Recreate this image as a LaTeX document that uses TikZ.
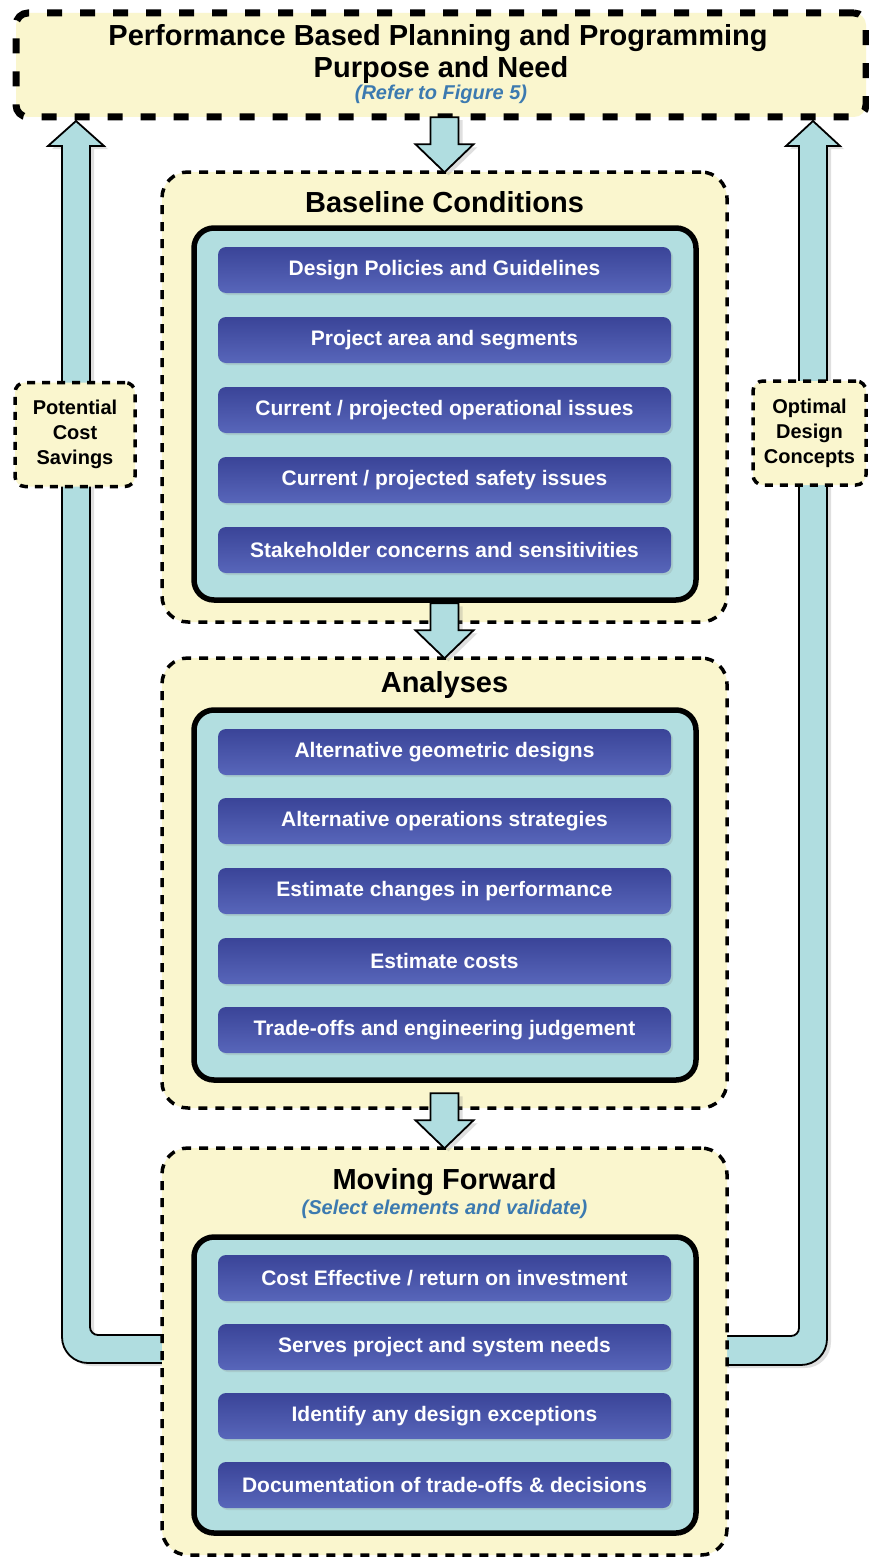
\documentclass[tikz,border=0pt]{standalone}
\usepackage{fontspec}
\setmainfont{Liberation Sans}
\usetikzlibrary{calc,shadows}
\definecolor{cream}{RGB}{250,246,206}
\definecolor{pale}{RGB}{178,222,224}
\definecolor{arrowfill}{RGB}{176,221,224}
\definecolor{btnmid}{RGB}{36,44,126}
\definecolor{btntop}{RGB}{58,68,152}
\definecolor{btnbot}{RGB}{88,102,186}
\definecolor{subblue}{RGB}{60,122,176}

\tikzset{
  topbox/.style={draw, fill=cream, line width=7pt, dash pattern=on 15pt off 18pt,
    rounded corners=12pt, minimum width=850pt, minimum height=104pt},
  secbox/.style={draw, fill=cream, line width=3.5pt, dash pattern=on 9pt off 8pt,
    rounded corners=26pt, minimum width=565pt},
  sidebox/.style={draw, fill=cream, line width=3.5pt, dash pattern=on 8pt off 7pt,
    rounded corners=10pt, align=center, minimum height=104pt, inner sep=1pt,
    font=\bfseries\fontsize{20}{25}\selectfont},
  innerbox/.style={draw, fill=pale, line width=5.5pt, rounded corners=20pt,
    minimum width=502pt},
  btn/.style={rounded corners=8pt, top color=btntop, middle color=btnmid,
    bottom color=btnbot, text=white, minimum width=453pt, minimum height=46pt,
    drop shadow={opacity=0.2, shadow xshift=2pt, shadow yshift=-2pt},
    font=\bfseries\fontsize{21}{24}\selectfont},
  fatarrow/.style={draw, fill=arrowfill, line width=1.8pt, line join=miter,
    drop shadow={opacity=0.25, shadow xshift=4pt, shadow yshift=-3pt}},
  sectitle/.style={font=\bfseries\fontsize{29}{33}\selectfont},
  subnote/.style={text=subblue, font=\bfseries\itshape\fontsize{20}{23}\selectfont}
}

\begin{document}
\begin{tikzpicture}[x=1pt,y=-1pt]
    \fill[white] (0,0) rectangle (869,1560);
    \useasboundingbox (0,0) rectangle (869,1560);

    % Return arrows on both sides
    \filldraw[fatarrow] (76,121) -- (104,146) -- (90,146) -- (90,1327)
        arc[start angle=180, end angle=90, radius=8] -- (175,1335) -- (175,1363) -- (88,1363)
        arc[start angle=90, end angle=180, radius=26] -- (62,146) -- (48,146) -- cycle;
    \filldraw[fatarrow] (813,121) -- (840,146) -- (827,146) -- (827,1339)
        arc[start angle=0, end angle=90, radius=26] -- (715,1365) -- (715,1336) -- (791,1336)
        arc[start angle=90, end angle=0, radius=8] -- (799,146) -- (786,146) -- cycle;

    % Purpose and need
    \node[topbox] (pbpp) at (441,65) {};
    \node[sectitle] (pbpptitle) at (438,38) {Performance Based Planning and Programming};
    \node[sectitle] (pbppneed) at (441,70) {Purpose and Need};
    \node[subnote] (pbppref) at (441,94) {(Refer to Figure 5)};

    % Baseline conditions
    \node[secbox, minimum height=450pt] (base) at (444.5,397) {};
    \node[sectitle] (basetitle) at (444.5,202) {Baseline Conditions};
    \node[innerbox, minimum height=372pt] (baseinner) at (445,414) {};
    \foreach \y/\t [count=\i] in {270/{Design Policies and Guidelines},
        340/{Project area and segments},
        410/{Current / projected operational issues},
        480/{Current / projected safety issues},
        550/{Stakeholder concerns and sensitivities}}
        \node[btn] (bc\i) at (444.5,\y) {\t};

    % Analyses
    \node[secbox, minimum height=450pt] (anal) at (444.5,883) {};
    \node[sectitle] (analtitle) at (444.5,685) {Analyses};
    \node[innerbox, minimum height=370pt] (analinner) at (445,895) {};
    \foreach \y/\t [count=\i] in {752/{Alternative geometric designs},
        821/{Alternative operations strategies},
        891/{Estimate changes in performance},
        961/{Estimate costs},
        1030/{Trade-offs and engineering judgement}}
        \node[btn] (an\i) at (444.5,\y) {\t};

    % Moving forward
    \node[secbox, minimum height=407pt] (mf) at (444.5,1351.5) {};
    \node[sectitle] (mftitle) at (444.5,1182) {Moving Forward};
    \node[subnote] (mfnote) at (444.5,1209) {(Select elements and validate)};
    \node[innerbox, minimum height=296pt] (mfinner) at (445,1385) {};
    \foreach \y/\t [count=\i] in {1278/{Cost Effective / return on investment},
        1347/{Serves project and system needs},
        1416/{Identify any design exceptions},
        1485/{Documentation of trade-offs \& decisions}}
        \node[btn] (mf\i) at (444.5,\y) {\t};

    % Side labels
    \node[sidebox, minimum width=120pt] (savings) at (75,434.5) {Potential\\Cost\\Savings};
    \node[sidebox, minimum width=113pt] (concepts) at (809.5,433) {Optimal\\Design\\Concepts};

    % Down arrows between the stages
    \foreach \b in {base,anal,mf} {
        \coordinate (tip) at ($(\b.north)+(0,2)$);
        \filldraw[fatarrow] ($(tip)+(-14,-55)$) -- ($(tip)+(-14,-28)$) -- ($(tip)+(-29,-28)$)
            -- (tip) -- ($(tip)+(29,-28)$) -- ($(tip)+(14,-28)$) -- ($(tip)+(14,-55)$) -- cycle;
    }
\end{tikzpicture}
\end{document}
